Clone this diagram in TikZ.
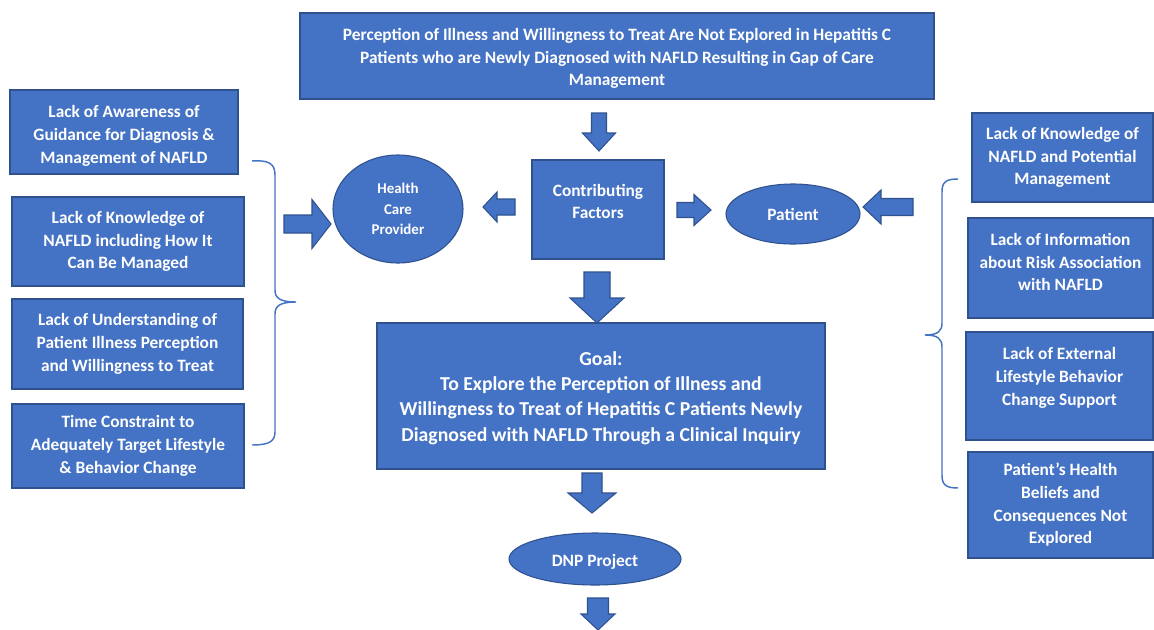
\documentclass[tikz,border=0pt]{standalone}
\usepackage{fontspec}
\setmainfont{Carlito}
\usepackage{color}
\usetikzlibrary{shapes.geometric}

\newcommand{\blockarrow}[6]{%
  \filldraw[barrow, shift={#1}, rotate=#2]
    (0,-#4) -- ({#3-#6},-#4) -- ({#3-#6},-#5) -- (#3,0) -- ({#3-#6},#5) -- ({#3-#6},#4) -- (0,#4) -- cycle;}

\begin{document}
\begin{tikzpicture}[x=0.75pt,y=-0.75pt,
	size/.style 2 args={minimum width={#1*0.75pt}, minimum height={#2*0.75pt}},
	box/.style={draw=boxedge, fill=boxblue, line width=0.8pt, text=white, inner sep=0pt,
		font=\bfseries\fontsize{13}{17}\selectfont, align=center},
	oval/.style={box, ellipse},
	boxtext/.style={text=white, font=\bfseries\fontsize{13}{17}\selectfont, align=center, inner sep=0pt},
	barrow/.style={draw=boxedge, fill=boxblue, line width=0.8pt},
	brace/.style={draw=boxblue, line width=1.1pt}]
	\definecolor{boxblue}{RGB}{68,114,196}
	\definecolor{boxedge}{RGB}{47,82,143}
	
	\useasboundingbox[fill=white] (0,0) rectangle (1154,629);
	
	\node[box, size={634}{86}] (problem) at (617,56) {};
	\node[boxtext] at ([yshift=-2pt]problem.center) {Perception of Illness and Willingness to Treat Are Not Explored in Hepatitis C\\Patients who are Newly Diagnosed with NAFLD Resulting in Gap of Care\\Management};
	
	\node[box, size={132}{99}] (factors) at (598,209.5) {};
	\node[boxtext] at ([yshift=6pt]factors.center) {Contributing\\Factors};
	\node[oval, size={130}{108}, font=\bfseries\fontsize{11.2}{15.5}\selectfont] (provider) at (398,209) {Health\\Care\\Provider};
	\node[oval, size={134}{60}] (patient) at (793,214) {Patient};
	
	\node[box, size={448}{146}, font=\bfseries\fontsize{14.8}{19}\selectfont] (goal) at (601,396) {};
	\node[boxtext, font=\bfseries\fontsize{14.8}{19}\selectfont] at ([yshift=-1.5pt]goal.center) {Goal:\\To Explore the Perception of Illness and\\Willingness to Treat of Hepatitis C Patients Newly\\Diagnosed with NAFLD Through a Clinical Inquiry};
	\node[oval, size={172}{52}] (dnp) at (595,559) {};
	\node[boxtext] at ([yshift=-2.5pt]dnp.center) {DNP Project};
	
	\node[box, size={228}{84}] (awareness) at (124,132) {};
	\node[boxtext] at ([yshift=-3pt]awareness.center) {Lack of Awareness of\\Guidance for Diagnosis \&\\Management of NAFLD};
	\node[box, size={232}{89}] (knowledge) at (128,241.5) {Lack of Knowledge of\\NAFLD including How It\\Can Be Managed};
	\node[box, size={231}{90}] (understanding) at (127.5,344) {Lack of Understanding of\\Patient Illness Perception\\and Willingness to Treat};
	\node[box, size={232}{84}] (time) at (128,446) {Time Constraint to\\Adequately Target Lifestyle\\\& Behavior Change};
	
	\node[box, size={181}{89}] (ptknowledge) at (1062.5,157.5) {Lack of Knowledge of\\NAFLD and Potential\\Management};
	\node[box, size={185}{100}] (risk) at (1060.5,268) {};
	\node[boxtext] at ([yshift=4.5pt]risk.center) {Lack of Information\\about Risk Association\\with NAFLD};
	\node[box, size={187}{108}] (support) at (1059.5,386) {};
	\node[boxtext] at ([yshift=6pt]support.center) {Lack of External\\Lifestyle Behavior\\Change Support};
	\node[box, size={185}{106}] (beliefs) at (1060.5,505) {Patient's Health\\Beliefs and\\Consequences Not\\Explored};
	
	\blockarrow{(599,113)}{-90}{38}{7.5}{16.5}{18}
	\blockarrow{(515,207)}{180}{32}{8}{15}{14}
	\blockarrow{(284,224)}{0}{47}{9}{24.5}{19}
	\blockarrow{(677,210)}{0}{34}{7.5}{15.5}{17}
	\blockarrow{(913,207)}{180}{50}{8.5}{17}{18}
	\blockarrow{(597,272)}{-90}{51}{13}{27}{25}
	\blockarrow{(592,473)}{-90}{40}{10}{24}{20}
	\blockarrow{(598,598)}{-90}{32}{10.5}{17}{16}
	
	\draw[brace] (252,161) .. controls (268,160) and (275,163) .. (275,175) -- (275,290)
		.. controls (275,298) and (280,302) .. (296,302)
		.. controls (280,302) and (275,306) .. (275,314) -- (275,432)
		.. controls (275,442) and (268,445) .. (252,445);
	\draw[brace] (958,179) .. controls (946,179) and (942,182) .. (942,192) -- (942,323)
		.. controls (942,331) and (938,335) .. (925,335)
		.. controls (938,335) and (942,339) .. (942,347) -- (942,475)
		.. controls (942,485) and (946,488) .. (958,488);
	
\end{tikzpicture}
\end{document}
